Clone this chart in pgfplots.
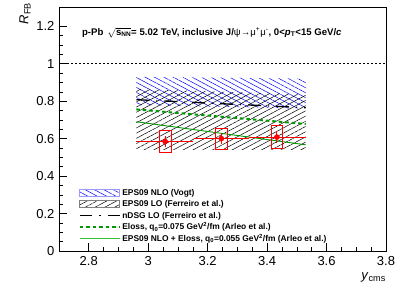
\documentclass[border=0pt]{standalone}
\usepackage{pgfplots}
\pgfplotsset{compat=1.18}
\usepackage{fontspec}
\setmainfont{Liberation Sans}
\usetikzlibrary{patterns.meta}
\definecolor{dgreen}{rgb}{0,0.6,0}
\definecolor{lgreen}{rgb}{0.2,0.75,0.2}
\begin{document}
\begin{tikzpicture}
\begin{axis}[
  at={(0,0)}, anchor=south west,
  scale only axis, width=327pt, height=243.5pt,
  xmin=2.7, xmax=3.8, ymin=0, ymax=1.3,
  xtick={2.8,3,3.2,3.4,3.6,3.8},
  xticklabels={2.8,3,3.2,3.4,3.6,3.8},
  ytick={0,0.2,0.4,0.6,0.8,1,1.2},
  yticklabels={0,0.2,0.4,0.6,0.8,1,1.2},
  minor x tick num=3, minor y tick num=3,
  tick pos=left, tick align=inside,
  major tick length=8pt, minor tick length=4pt,
  tick style={black, line width=0.5pt},
  axis line style={line width=0.6pt},
  ticklabel style={font=\fontsize{13}{15}\selectfont},
  xticklabel style={yshift=-2pt},
  yticklabel style={xshift=-1pt},
  xlabel={\textit{y}\textsubscript{cms}},
  xlabel style={at={(axis description cs:1,-0.09)}, anchor=north east, font=\fontsize{13}{15}\selectfont, inner sep=0pt},
  ylabel={\textit{R}\textsubscript{FB}},
  ylabel style={at={(axis description cs:-0.104,1.02)}, anchor=east, font=\fontsize{13}{15}\selectfont, inner sep=0pt},
  legend style={at={(axis cs:2.755,0.355)}, anchor=north west, draw=none, fill=none,
    font=\bfseries\fontsize{8.4}{10}\selectfont, row sep=0pt,
    nodes={inner sep=1.8pt, text height=6.5pt, text depth=1.5pt}},
  legend cell align=left,
  clip=false,
]
% EPS09 NLO (Vogt)
\addplot[draw=none, pattern={Lines[angle=-28,distance=4.4pt,line width=0.5pt]}, pattern color=blue,
  legend image code/.code={\draw[draw=blue!40, pattern={Lines[angle=-28,distance=4.4pt,line width=0.5pt]}, pattern color=blue] (0pt,-3.5pt) rectangle (40pt,3.5pt);}]
  coordinates {(2.96,0.93) (3.53,0.92) (3.53,0.76) (2.96,0.78)} -- cycle;
\addlegendentry{EPS09 NLO (Vogt)}
% EPS09 LO (Ferreiro)
\addplot[draw=none, pattern={Lines[angle=28,distance=4.6pt,line width=0.5pt]}, pattern color=black,
  legend image code/.code={\draw[draw=black!50, pattern={Lines[angle=28,distance=4.6pt,line width=0.5pt]}, pattern color=black] (0pt,-3.5pt) rectangle (40pt,3.5pt);}]
  coordinates {(2.96,0.865) (3.53,0.835) (3.53,0.54) (2.96,0.54)} -- cycle;
\addlegendentry{EPS09 LO (Ferreiro et al.)}
% nDSG LO
\addplot[black, line width=1.3pt, dash pattern=on 13pt off 7pt on 1pt off 7pt,
  legend image code/.code={\draw[black, line width=1.1pt, dash pattern=on 12pt off 7pt on 2pt off 7pt] (0pt,0pt) -- (40pt,0pt);}]
  coordinates {(2.96,0.808) (3.53,0.765)};
\addlegendentry{nDSG LO (Ferreiro et al.)}
% Eloss
\addplot[dgreen, line width=2pt, dash pattern=on 3.5pt off 3pt,
  legend image code/.code={\draw[dgreen, line width=2pt, dash pattern=on 3.5pt off 3pt] (0pt,0pt) -- (40pt,0pt);}]
  coordinates {(2.96,0.756) (3.53,0.678)};
\addlegendentry{Eloss, q\textsubscript{0}=0.075 GeV\textsuperscript{2}/fm (Arleo et al.)}
% EPS09 NLO + Eloss
\addplot[dgreen, line width=0.9pt,
  legend image code/.code={\draw[lgreen, line width=1pt] (0pt,0pt) -- (40pt,0pt);}]
  coordinates {(2.96,0.69) (3.53,0.567)};
\addlegendentry{EPS09 NLO + Eloss, q\textsubscript{0}=0.055 GeV\textsuperscript{2}/fm (Arleo et al.)}
% line at 1
\addplot[black, line width=0.7pt, dash pattern=on 2pt off 2pt, forget plot] coordinates {(2.7,1) (3.8,1)};
% systematic boxes
\addplot[red, line width=0.8pt, forget plot] coordinates {(3.037,0.528) (3.077,0.528) (3.077,0.642) (3.037,0.642)} -- cycle;
\addplot[red, line width=0.8pt, forget plot] coordinates {(3.226,0.543) (3.266,0.543) (3.266,0.655) (3.226,0.655)} -- cycle;
\addplot[red, line width=0.8pt, forget plot] coordinates {(3.413,0.549) (3.453,0.549) (3.453,0.668) (3.413,0.668)} -- cycle;
% data points
\addplot[red, only marks, mark=*, mark size=2.6pt, forget plot,
  error bars/.cd, x dir=both, x explicit, y dir=both, y explicit,
  error mark=none, error bar style={red, line width=0.9pt}]
  coordinates {
   (3.057,0.585) += (0.093,0.03) -= (0.097,0.03)
   (3.246,0.600) += (0.094,0.028) -= (0.093,0.028)
   (3.433,0.608) += (0.097,0.03) -= (0.093,0.03)
  };
\node[anchor=west, font=\bfseries\fontsize{9.6}{11}\selectfont, inner sep=0pt] at (axis cs:2.777,1.166)
  {p-Pb \,$\sqrt{\textbf{s}_{\mbox{\fontsize{6.5}{7}\selectfont\bfseries NN}}}$= 5.02 TeV, inclusive J/\textmd{ψ→μ\textsuperscript{+}μ\textsuperscript{-}}, 0<\textit{p}\textsubscript{T}<15 GeV/\textit{c}};
\end{axis}
\pgfresetboundingbox
\path (-59pt,-38pt) rectangle (339pt,251pt);
\end{tikzpicture}
\end{document}
